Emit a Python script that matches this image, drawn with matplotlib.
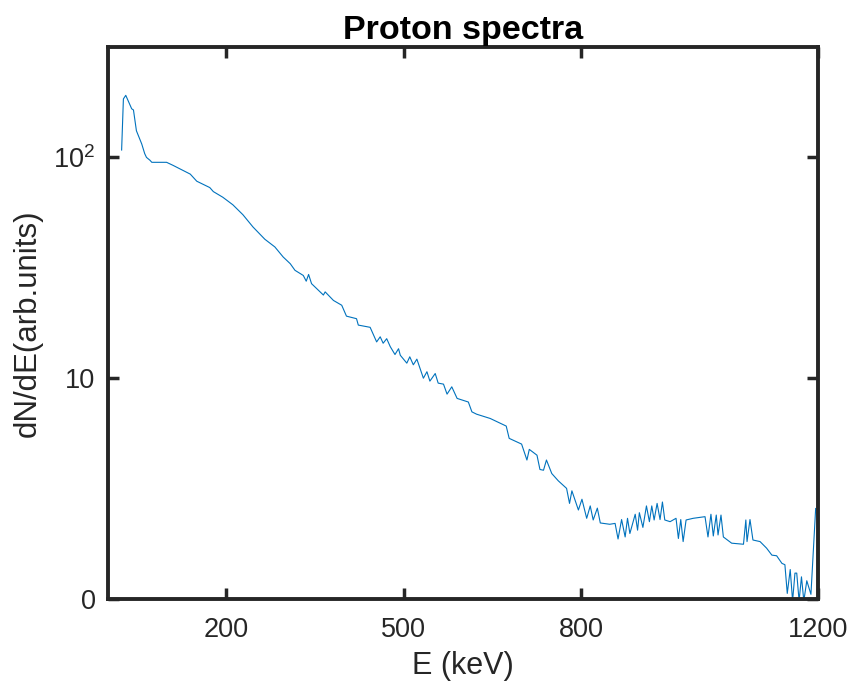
import numpy as np
import matplotlib
matplotlib.use('Agg')
import matplotlib.pyplot as plt

plt.rcParams['font.family'] = ['Liberation Sans', 'DejaVu Sans']
plt.rcParams['mathtext.fontset'] = 'custom'
plt.rcParams['mathtext.rm'] = 'Liberation Sans'
plt.rcParams['mathtext.it'] = 'Liberation Sans'

# proton energy (keV) and spectrum (arb. units)
energy = [23, 26, 30, 40, 43, 48, 57, 62, 65, 71, 74, 99, 110, 139, 150, 172, 178, 194, 211, 228, 245,
          265, 282, 296, 308, 316, 330, 335, 339, 344, 364, 367, 381, 395, 403, 420,
          423, 443, 454, 460, 465, 471, 477, 485, 491, 494, 505, 510, 516, 522, 533,
          539, 544, 553, 558, 567, 573, 581, 590, 609, 615, 623, 646, 673, 678, 699,
          708, 712, 725, 730, 736, 741, 750, 761, 775, 780, 784, 795, 801, 809, 815,
          820, 827, 832, 848, 857, 862, 868, 874, 878, 882, 891, 895, 898, 904, 910,
          915, 919, 923, 928, 933, 937, 941, 950, 960, 964, 968, 972, 977, 989, 1009,
          1014, 1019, 1023, 1028, 1031, 1036, 1040, 1054, 1074, 1078, 1080, 1085, 1090,
          1102, 1113, 1122, 1130, 1139, 1144, 1148, 1153, 1157, 1161, 1164, 1168, 1172,
          1176, 1181, 1188, 1196]
counts = [108, 184, 191, 166, 164, 132, 115, 104, 100, 97, 95, 95, 92, 84, 78, 73, 70, 66, 61, 55, 48.4,
          42.6, 39.3, 35.4, 33, 30.8, 29.2, 27.5, 29.5, 26.8, 23.8, 24.6, 22.5, 21.4, 19.1, 18.6,
          17.4, 17.0, 14.6, 15.4, 14.4, 15.1, 13.9, 12.8, 13.6, 12.7, 11.7, 12.5, 11.5, 12.2, 10.0,
          10.7, 9.7, 10.5, 9.5, 9.4, 8.47, 9.14, 8.1, 7.8, 7.04, 6.87, 6.57, 6.07, 5.34, 5.03,
          4.26, 4.76, 4.48, 3.86, 3.83, 4.26, 3.70, 3.43, 3.17, 2.71, 3.09, 2.53, 2.83, 2.32, 2.64,
          2.28, 2.58, 2.21, 2.18, 2.20, 1.87, 2.29, 1.91, 2.32, 1.98, 2.42, 2.05, 2.46, 2.11, 2.64,
          2.24, 2.64, 2.28, 2.71, 2.29, 2.75, 2.28, 2.24, 2.32, 1.88, 2.29, 1.82, 2.28, 2.32, 2.36,
          1.91, 2.42, 1.93, 2.40, 1.95, 2.40, 1.91, 1.79, 1.77, 2.28, 1.82, 2.29, 1.85,
          1.82, 1.70, 1.58, 1.57, 1.45, 1.43, 1.06, 1.36, 0.98, 1.31, 1.31, 0.98, 1.26,
          0.98, 1.21, 1.05, 2.57]

xticks = [200, 500, 800, 1200]
yticks = [1, 10, 100]
ytick_labels = ['0', '10', r'$10^{\mathregular{2}}$']

fig = plt.figure(figsize=(8.6, 6.81), dpi=100)
ax = fig.add_axes([0.1256, 0.1204, 0.8256, 0.8106])

ax.plot(energy, counts, color='#0072BD', linewidth=0.8)

ax.set_yscale('log')
ax.set_xlim(0, 1200)
ax.set_ylim(1, 10 ** 2.5)
ax.set_xticks(xticks)
ax.set_xticklabels([str(t) for t in xticks])
ax.set_yticks(yticks)
ax.set_yticklabels(ytick_labels)
ax.yaxis.set_minor_locator(matplotlib.ticker.NullLocator())

ax.tick_params(direction='in', length=8, width=2.5, top=True, right=True,
               labelsize=19.5, colors='#262626', pad=9)
ax.tick_params(axis='x', pad=13)
for s in ax.spines.values():
    s.set_linewidth(2.8)
    s.set_color('#262626')

ax.set_title('Proton spectra', fontsize=24.5, fontweight='bold', pad=6)
ax.set_xlabel('E (keV)', fontsize=22, color='#262626', labelpad=6)
ax.set_ylabel('dN/dE(arb.units)', fontsize=22.5, color='#262626', labelpad=8)

fig.savefig('out.png', dpi=100)
